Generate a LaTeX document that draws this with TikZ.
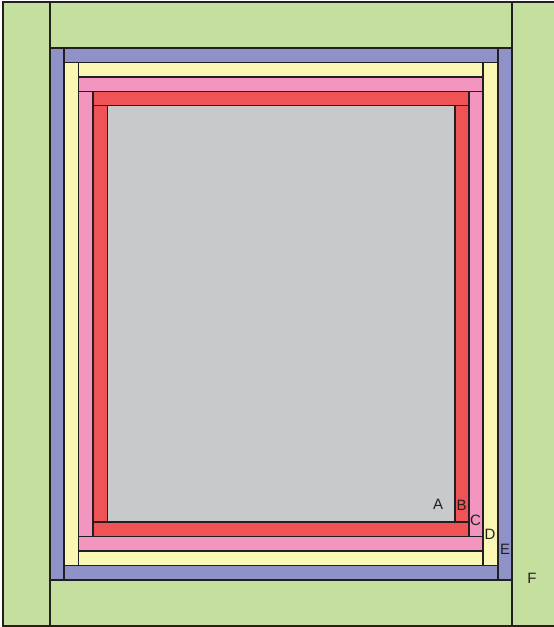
\documentclass[tikz,border=0pt]{standalone}
\usepackage{fontspec}
\setmainfont{Liberation Sans}
\definecolor{qgreen}{RGB}{197,224,158}
\definecolor{qpurple}{RGB}{143,146,199}
\definecolor{qyellow}{RGB}{250,247,180}
\definecolor{qpink}{RGB}{242,150,192}
\definecolor{qred}{RGB}{239,83,86}
\definecolor{qgrey}{RGB}{200,201,203}
\definecolor{linec}{RGB}{35,31,32}
\begin{document}
\begin{tikzpicture}[x=1pt,y=-1pt,
  patch/.style={draw=linec, line width=1.2pt, line join=miter},
  lab/.style={font=\fontsize{15}{17}\selectfont, text=linec, inner sep=0pt}]
\useasboundingbox (0,0) rectangle (554,627);
\fill[white] (0,0) rectangle (554,627);
% F : green
\path[patch,fill=qgreen] (3,2) rectangle (50,626);
\path[patch,fill=qgreen] (512,2) rectangle (556,626);
\path[patch,fill=qgreen] (50,2) rectangle (512,48);
\path[patch,fill=qgreen] (50,580) rectangle (512,626);
% E : purple
\path[patch,fill=qpurple] (50,48) rectangle (64,580);
\path[patch,fill=qpurple] (498,48) rectangle (512,580);
\path[patch,fill=qpurple] (64,48) rectangle (498,62.7);
\path[patch,fill=qpurple] (64,565.7) rectangle (498,580);
% D : yellow
\path[patch,fill=qyellow] (64,62.7) rectangle (78.3,565.7);
\path[patch,fill=qyellow] (483,62.7) rectangle (498,565.7);
\path[patch,fill=qyellow] (78.3,62.7) rectangle (483,77);
\path[patch,fill=qyellow] (78.3,551) rectangle (483,565.7);
% C : pink
\path[patch,fill=qpink] (78.3,77) rectangle (483,91.7);
\path[patch,fill=qpink] (78.3,536.7) rectangle (483,551);
\path[patch,fill=qpink] (78.3,91.7) rectangle (93,536.7);
\path[patch,fill=qpink] (469,91.7) rectangle (483,536.7);
% B : red
\path[patch,fill=qred] (93,91.7) rectangle (469,105.7);
\path[patch,fill=qred] (93,522) rectangle (469,536.7);
\path[patch,fill=qred] (93,105.7) rectangle (107.3,522);
\path[patch,fill=qred] (455,105.7) rectangle (469,522);
% A : grey centre
\path[patch,fill=qgrey] (107.3,105.7) rectangle (455,522);
% labels
\node[lab] (la) at (438,504) {A};
\node[lab] (lb) at (461.5,505) {B};
\node[lab] (lc) at (475.5,520) {C};
\node[lab] (ld) at (490,534) {D};
\node[lab] (le) at (505,549) {E};
\node[lab] (lf) at (532,578.5) {F};
\end{tikzpicture}
\end{document}
